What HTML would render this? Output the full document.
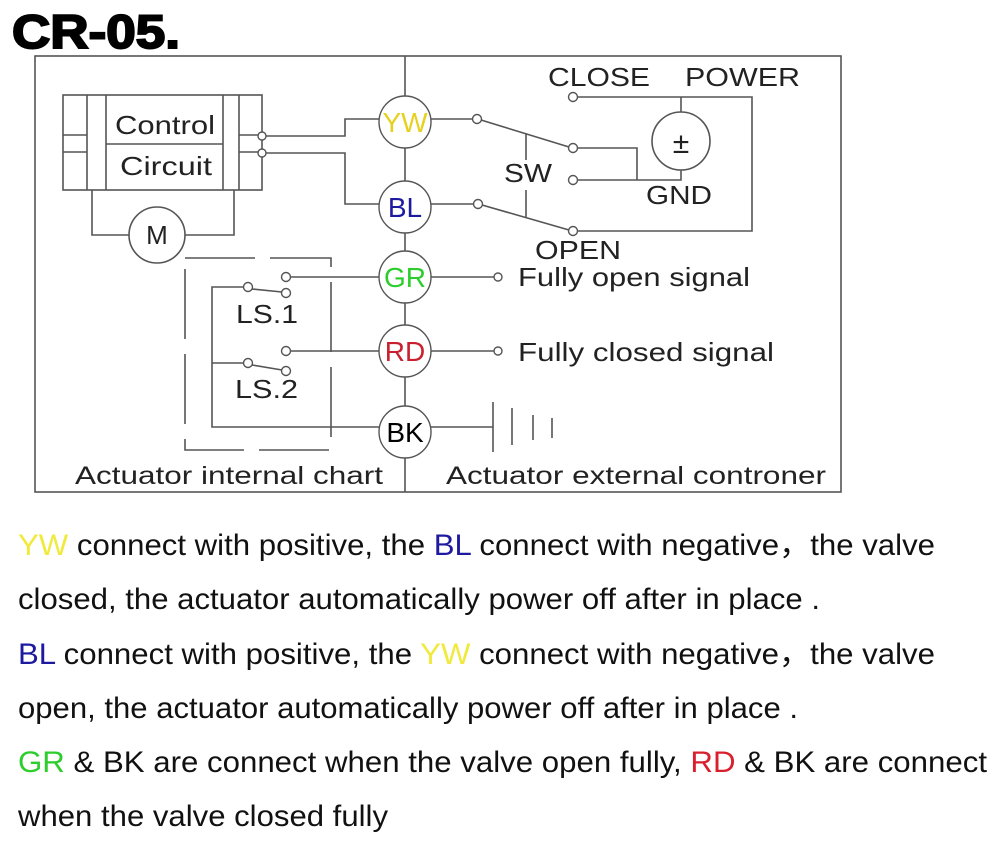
<!DOCTYPE html>
<html><head><meta charset="utf-8"><style>
html,body{margin:0;padding:0;background:#fff;width:1000px;height:863px;overflow:hidden}
svg{display:block}
text{font-family:"Liberation Sans",Arial,sans-serif}
</style></head><body>
<svg width="1000" height="863" viewBox="0 0 1000 863" xmlns="http://www.w3.org/2000/svg">
<text x="12" y="48" font-size="47" font-weight="bold" fill="#000" stroke="#000" stroke-width="2" textLength="168" lengthAdjust="spacingAndGlyphs">CR-05.</text>
<g fill="none" stroke="#555" stroke-width="1.6">
<rect x="35" y="56" width="806" height="436"/>
<line x1="405" y1="56" x2="405" y2="492"/>
<rect x="63" y="95" width="199" height="95"/>
<line x1="87" y1="95" x2="87" y2="190"/><line x1="106" y1="95" x2="106" y2="190"/>
<line x1="223" y1="95" x2="223" y2="190"/><line x1="239" y1="95" x2="239" y2="190"/>
<line x1="106" y1="144" x2="223" y2="144"/>
<line x1="63" y1="135" x2="87" y2="135"/><line x1="63" y1="152" x2="87" y2="152"/>
<line x1="239" y1="135" x2="262" y2="135"/><line x1="239" y1="152" x2="262" y2="152"/>
<polyline points="266,136 345,136 345,119 379,119"/>
<polyline points="266,153 345,153 345,204 379,204"/>
<polyline points="92,190 92,235 129,235"/>
<polyline points="234,190 234,235 185,235"/>
<circle cx="157" cy="235" r="28" fill="#fff"/>
<line x1="431" y1="119" x2="473" y2="119"/>
<line x1="431" y1="204" x2="474" y2="204"/>
<line x1="481" y1="120" x2="569" y2="147"/>
<line x1="482" y1="205" x2="569" y2="230"/>
<line x1="526" y1="134" x2="526" y2="160"/><line x1="526" y1="190" x2="526" y2="217"/>
<polyline points="577,97 752,97 752,231 577,231"/>
<line x1="681" y1="97" x2="681" y2="112"/>
<polyline points="577,148 637,148 637,180"/>
<polyline points="577,180 681,180 681,170"/>
<circle cx="681" cy="141" r="29"/>
<rect x="185" y="258" width="146" height="192" stroke-dasharray="70,15"/>
<line x1="290" y1="277" x2="379" y2="277"/>
<line x1="290" y1="351" x2="379" y2="351"/>
<polyline points="244,287 212,287 212,427 379,427"/>
<line x1="212" y1="363" x2="244" y2="363"/>
<line x1="252" y1="289" x2="282" y2="292"/>
<line x1="252" y1="365" x2="282" y2="370"/>
<line x1="431" y1="277" x2="494" y2="277"/>
<line x1="431" y1="351" x2="494" y2="351"/>
<line x1="431" y1="427" x2="493" y2="427"/>
<line x1="493" y1="402" x2="493" y2="452"/>
<line x1="512" y1="408" x2="512" y2="445"/>
<line x1="533" y1="415" x2="533" y2="440"/>
<line x1="552" y1="418" x2="552" y2="438"/>
</g>
<g fill="#fff" stroke="#555" stroke-width="1.4">
<circle cx="262" cy="136" r="4"/><circle cx="262" cy="153" r="4"/>
<circle cx="477" cy="119" r="4.5"/><circle cx="478" cy="204" r="4.5"/>
<circle cx="573" cy="97" r="4.5"/><circle cx="573" cy="148" r="4.5"/>
<circle cx="573" cy="180" r="4.5"/><circle cx="573" cy="231" r="4.5"/>
<circle cx="286" cy="277" r="4.5"/><circle cx="248" cy="287" r="4.5"/><circle cx="286" cy="293" r="4.5"/>
<circle cx="286" cy="351" r="4.5"/><circle cx="248" cy="363" r="4.5"/><circle cx="286" cy="371" r="4.5"/>
<circle cx="498" cy="277" r="4"/><circle cx="498" cy="351" r="4"/>
<circle cx="405" cy="122" r="26"/><circle cx="405" cy="207" r="26"/>
<circle cx="405" cy="277" r="26"/><circle cx="405" cy="351" r="26"/><circle cx="405" cy="432" r="26"/>
</g>
<g font-size="28" text-anchor="middle">
<text x="405" y="132" fill="#e6d21e">YW</text>
<text x="405" y="217" fill="#1e1aa0">BL</text>
<text x="405" y="287" fill="#2ccd2c">GR</text>
<text x="405" y="361" fill="#c8202e">RD</text>
<text x="405" y="442" fill="#000">BK</text>
</g>
<g font-size="26" fill="#222">
<text x="115" y="134" textLength="100" lengthAdjust="spacingAndGlyphs">Control</text>
<text x="120" y="175" textLength="92" lengthAdjust="spacingAndGlyphs">Circuit</text>
<text x="157" y="244" text-anchor="middle">M</text>
<text x="548" y="86" textLength="102" lengthAdjust="spacingAndGlyphs">CLOSE</text>
<text x="685" y="86" textLength="115" lengthAdjust="spacingAndGlyphs">POWER</text>
<text x="504" y="182" textLength="48" lengthAdjust="spacingAndGlyphs">SW</text>
<text x="646" y="204" textLength="66" lengthAdjust="spacingAndGlyphs">GND</text>
<text x="535" y="259" textLength="86" lengthAdjust="spacingAndGlyphs">OPEN</text>
<text x="681" y="153" text-anchor="middle" font-size="30">±</text>
<text x="236" y="323" textLength="62" lengthAdjust="spacingAndGlyphs">LS.1</text>
<text x="235" y="398" textLength="63" lengthAdjust="spacingAndGlyphs">LS.2</text>
<text x="518" y="286" textLength="232" lengthAdjust="spacingAndGlyphs">Fully open signal</text>
<text x="518" y="361" textLength="256" lengthAdjust="spacingAndGlyphs">Fully closed signal</text>
<text x="75" y="484" textLength="308" lengthAdjust="spacingAndGlyphs" font-size="25">Actuator internal chart</text>
<text x="446" y="484" textLength="380" lengthAdjust="spacingAndGlyphs" font-size="25">Actuator external controner</text>
</g>
<g font-size="29.5" fill="#111">
<text x="18" y="555" textLength="917" lengthAdjust="spacingAndGlyphs"><tspan fill="#f0ea3c">YW</tspan> connect with positive, the <tspan fill="#1e1aa0">BL</tspan> connect with negative，the valve</text>
<text x="18" y="609" textLength="802" lengthAdjust="spacingAndGlyphs">closed, the actuator automatically power off after in place .</text>
<text x="18" y="664" textLength="917" lengthAdjust="spacingAndGlyphs"><tspan fill="#1e1aa0">BL</tspan> connect with positive, the <tspan fill="#f0ea3c">YW</tspan> connect with negative，the valve</text>
<text x="18" y="718" textLength="780" lengthAdjust="spacingAndGlyphs">open, the actuator automatically power off after in place .</text>
<text x="18" y="772" textLength="969" lengthAdjust="spacingAndGlyphs"><tspan fill="#2ccd2c">GR</tspan> &amp; BK are connect when the valve open fully, <tspan fill="#d8202e">RD</tspan> &amp; BK are connect</text>
<text x="18" y="826" textLength="370" lengthAdjust="spacingAndGlyphs">when the valve closed fully</text>
</g>
</svg>
</body></html>
